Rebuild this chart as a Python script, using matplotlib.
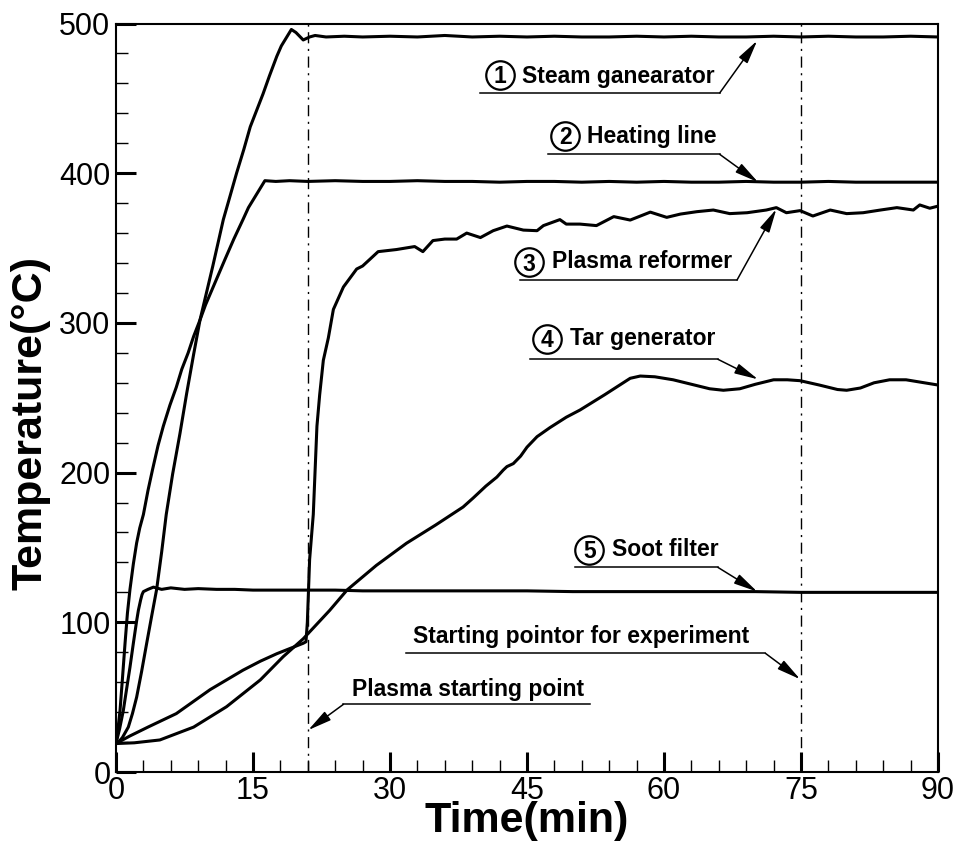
import matplotlib
matplotlib.use("Agg")
import matplotlib.pyplot as plt
from matplotlib.ticker import MultipleLocator

plt.rcParams["font.family"] = ["Liberation Sans", "DejaVu Sans"]

# ---- measured temperatures (time in min, temperature in deg C) ----
steam_t = [0, 0.35, 0.7, 1.35, 1.8, 2.26, 2.8, 3.36, 3.9, 4.45,
           5.0, 5.5, 6.2, 7.0, 7.74, 8.5, 9.2, 9.9, 10.6, 11.75,
           12.5, 13.2, 14.0, 14.7, 15.4, 16.1, 16.8, 17.6, 18.1, 18.6,
           19.2, 19.7, 20.5, 21.2, 21.8, 23, 25, 27, 30, 33,
           36, 39, 42, 45, 48, 51, 54, 57, 60, 63,
           66, 69, 72, 75, 78, 81, 84, 87, 90]
steam_T = [19, 20.5, 23, 30, 39, 50, 67, 86, 104, 122,
           147, 172, 199, 226, 253, 279, 302, 320, 338, 369,
           385, 400, 416, 431, 442, 453, 465, 478, 485, 490,
           496, 494, 489, 491, 492, 491, 491.5, 491, 491.5, 491,
           492, 491, 491.5, 491, 491.5, 491, 491, 491.5, 491, 491.5,
           491, 491, 491.5, 491, 491.5, 491, 491, 491.5, 491]

heat_t = [0, 0.2, 0.44, 0.7, 0.99, 1.25, 1.53, 1.9, 2.26, 2.6,
          3.0, 3.5, 4.0, 4.6, 5.18, 5.9, 6.6, 7.2, 7.9, 8.5,
          9.2, 9.8, 10.5, 11.2, 11.9, 12.9, 13.9, 14.5, 15.2, 16.3,
          17.5, 19, 21, 24, 27, 30, 33, 36, 39, 42,
          45, 48, 51, 54, 57, 60, 63, 66, 69, 72,
          75, 78, 81, 84, 87, 90]
heat_T = [19, 28, 41, 62, 86, 106, 122, 139, 153, 163,
          172, 188, 202, 218, 231, 245, 257, 269, 280, 291,
          302, 312, 322, 332, 342, 356, 369, 377, 384, 395,
          394.5, 395, 394.5, 395, 394.5, 394.5, 395, 394.5, 394.5, 394,
          394.5, 394.5, 394, 394.5, 394, 394.5, 394, 394, 394.5, 394,
          394, 394.5, 394, 394, 394, 394]

reformer_t = [0, 1.5, 3.5, 6.6, 10.3, 13.9, 15.8, 17.6, 20.5, 20.8,
              20.95, 21.2, 21.6, 22.0, 22.3, 22.7, 23.25, 23.8, 24.9, 26.35,
              27.0, 27.8, 28.7, 30.7, 32.7, 33.6, 34.7, 36.0, 37.3, 38.4,
              39.9, 41.3, 42.8, 44.6, 46.1, 46.8, 48.6, 49.3, 50.8, 52.6,
              54.5, 56.3, 58.5, 60.3, 61.8, 63.6, 65.4, 67.2, 69.1, 71.2,
              72.3, 73.4, 74.9, 76.3, 78.2, 80.0, 81.8, 83.7, 85.5, 87.3,
              88.0, 89.1, 90.0]
reformer_T = [19, 24, 30, 39, 55, 68, 74, 79, 86, 87,
              100, 142, 172, 231, 252, 275, 290, 309, 324, 336,
              338, 342.5, 347.6, 349, 351, 347.6, 355, 356, 356, 360,
              357, 361.6, 364.7, 362, 361.6, 365, 369, 366, 366, 365,
              371, 368.7, 374, 370.5, 372.7, 374.3, 375.4, 373, 373.6, 375.4,
              377, 373.6, 375, 371.4, 375.4, 373, 373.6, 375.4, 377, 375.4,
              378.8, 376.6, 378]

tar_t = [0, 2, 4.8, 8.5, 12.1, 15.8, 18.3, 20.5, 23.4, 25.3,
         28.5, 31.8, 35, 38, 39.1, 40.5, 41.7, 42.4, 42.8, 43.5,
         44.3, 45.0, 46.1, 47.5, 49.3, 50.8, 53.5, 56.3, 57.4, 59,
         61, 63, 65, 66.5, 68.3, 70, 72, 73.5, 74.9, 77,
         79, 80, 81.5, 83, 84.7, 86.5, 88, 90]
tar_T = [19, 19.5, 21.4, 30, 43.6, 61.5, 77, 89, 108, 121.6,
         138, 152.8, 165, 177, 183, 191, 197, 201.7, 204, 206,
         211, 217, 224, 230, 237, 241.8, 252, 263, 264.5, 264,
         262, 259, 256, 255, 256, 259, 262, 262, 261.4, 258.5,
         255.5, 255, 256.5, 260, 262, 262, 260.5, 258.5]

soot_t = [0, 0.4, 0.8, 1.15, 1.53, 1.9, 2.26, 2.45, 2.7, 2.85,
          3.0, 3.5, 4.1, 5, 6, 7.5, 9, 11, 13, 15,
          18, 21, 24, 27, 30, 35, 40, 45, 50, 55,
          60, 65, 70, 75, 80, 85, 90]
soot_T = [19, 29, 41, 55, 70, 86, 101, 108, 115, 118.5,
          120.5, 122, 123.5, 122, 123, 122, 122.5, 122, 122, 121.5,
          121.5, 121.5, 121.5, 121, 121, 121, 121, 121, 120.5, 120.5,
          120.5, 120.5, 120.5, 120, 120, 120, 120]

plasma_start = 21
experiment_start = 75

fig = plt.figure(figsize=(9.57, 8.44), dpi=100)
ax = fig.add_axes([116 / 957, 1 - 772 / 844, (938 - 116) / 957, (772 - 23.5) / 844])

for t, T in [(steam_t, steam_T), (heat_t, heat_T), (reformer_t, reformer_T),
             (tar_t, tar_T), (soot_t, soot_T)]:
    ax.plot(t, T, color="black", lw=2.2, solid_joinstyle="round", solid_capstyle="round")

for xv in (plasma_start, experiment_start):
    ax.plot([xv, xv], [0, 500], color="black", lw=1.0, linestyle=(0, (8, 4, 1.5, 4)))

ax.set_xlim(0, 90)
ax.set_ylim(0, 500)
ax.xaxis.set_major_locator(MultipleLocator(15))
ax.xaxis.set_minor_locator(MultipleLocator(3))
ax.yaxis.set_major_locator(MultipleLocator(100))
ax.yaxis.set_minor_locator(MultipleLocator(20))
ax.tick_params(which="major", direction="in", length=14.5, width=2.2, labelsize=22,
               top=False, right=False)
ax.tick_params(axis="x", which="major", pad=3)
ax.tick_params(axis="y", which="major", pad=4)
ax.tick_params(which="minor", direction="in", length=8.5, width=1.0, top=False, right=False)
for sp in ax.spines.values():
    sp.set_linewidth(1.5)

fig.text(527 / 957, 1 - 821 / 844, "Time(min)", ha="center", va="center",
         fontsize=31, fontweight="bold")
fig.text(31 / 957, 1 - 423 / 844, "Temperature(\u00b0C)", ha="center", va="center",
         rotation=90, fontsize=31, fontweight="bold")

FS = 16.5
ARROW = dict(arrowstyle="-|>,head_length=0.72,head_width=0.16", color="black",
             lw=1.1, shrinkA=0, shrinkB=0, mutation_scale=20)


def callout(text, text_x, baseline, line_x0, line_x1, line_y, tip, start,
            num=None, circle=None):
    ax.text(text_x, baseline, text, ha="left", va="baseline",
            fontsize=FS, fontweight="bold")
    ax.plot([line_x0, line_x1], [line_y, line_y], color="black", lw=1.1)
    ax.annotate("", xy=tip, xytext=(start, line_y), arrowprops=ARROW)
    if num is not None:
        cx, cy = circle
        ax.plot([cx], [cy], marker="o", ms=20.5, mfc="none", mec="black", mew=1.6)
        ax.annotate(num, xy=(cx, cy), xytext=(0, -0.36 * FS), textcoords="offset points",
                    ha="center", va="baseline", fontsize=FS, fontweight="bold")


callout("Steam ganearator", 44.42, 460.0, 39.9, 66.1, 453.6, (70.2, 488.5), 66.1,
        "1", (42.05, 465.6))
callout("Heating line", 51.54, 420.0, 47.3, 66.1, 412.6, (70.3, 394.0), 66.1,
        "2", (49.17, 425.0))
callout("Plasma reformer", 47.7, 336.5, 44.2, 68.0, 328.7, (72.3, 376.0), 68.0,
        "3", (45.22, 340.5))
callout("Tar generator", 49.71, 285.2, 45.3, 65.9, 275.7, (70.3, 262.3), 65.9,
        "4", (47.19, 289.4))
callout("Soot filter", 54.27, 144.3, 50.3, 65.9, 136.7, (70.2, 120.5), 65.9,
        "5", (51.82, 148.3))
callout("Starting pointor for experiment", 32.55, 86.0, 31.8, 71.1, 79.3, (74.9, 62.0), 71.1)
callout("Plasma starting point", 25.8, 50.8, 24.9, 51.9, 45.2, (21.05, 28.0), 24.9)

fig.savefig("out.png", dpi=100)
